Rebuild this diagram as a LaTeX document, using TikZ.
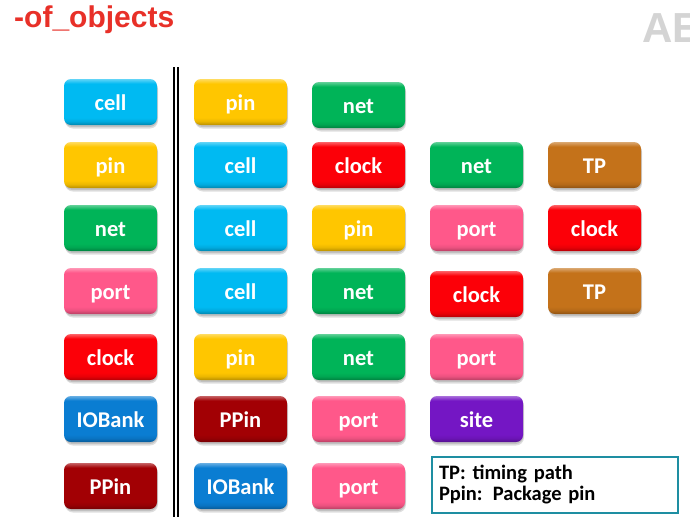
\documentclass[tikz,border=0pt]{standalone}
\usepackage{fontspec}
\setmainfont{Carlito}
\newfontfamily\titlefont{Liberation Sans}
\definecolor{cCell}{RGB}{0,186,242}
\definecolor{cPin}{RGB}{255,198,0}
\definecolor{cNet}{RGB}{0,180,88}
\definecolor{cPort}{RGB}{255,88,138}
\definecolor{cClock}{RGB}{252,0,8}
\definecolor{cIOBank}{RGB}{10,125,210}
\definecolor{cPPin}{RGB}{162,0,4}
\definecolor{cTP}{RGB}{196,114,26}
\definecolor{cSite}{RGB}{116,22,196}
\definecolor{cTitle}{RGB}{232,48,40}
\definecolor{cLegend}{RGB}{30,142,162}
\colorlet{btnc}{cCell}
\pgfdeclareverticalshading[btnc]{btnshade}{100bp}{%
  color(0bp)=(btnc!72!black); color(25bp)=(btnc!72!black);
  color(29bp)=(btnc!92!black); color(33bp)=(btnc);
  color(70bp)=(btnc); color(75bp)=(btnc!62!white); color(100bp)=(btnc!62!white)}
\tikzset{
  btnbox/.style={rectangle, rounded corners=7pt, minimum width=93pt, minimum height=46pt,
    inner sep=0pt, shading=btnshade, text=white, text height=18.5pt, text depth=1.5pt,
    font=\fontsize{22.5}{25}\selectfont\bfseries},
  btnshadow/.style={fill=black, opacity=0.13, rounded corners=8pt},
  legendbox/.style={draw=cLegend, line width=2pt, rectangle, minimum width=246pt,
    minimum height=56pt, text width=232pt, align=left, inner xsep=6pt, inner ysep=0pt,
    font=\fontsize{20.5}{21.5}\selectfont\bfseries},
  sepline/.style={line width=2pt, black}
}
\newcommand\btn[5]{%
  \fill[btnshadow] (#2-45.5,#3-21) rectangle (#2+47.5,#3+26.5);
  \fill[btnshadow] (#2-46,#3-22) rectangle (#2+47,#3+25);
  \colorlet{btnc}{#4}%
  \node[btnbox] (#1) at (#2,#3) {#5};%
}
\begin{document}
\begin{tikzpicture}[x=1pt,y=-1pt]
\useasboundingbox (0,0) rectangle (690,517);
\fill[white] (0,0) rectangle (690,517);
% title and watermark
\node[anchor=base west, inner sep=0pt, text=cTitle, font=\titlefont\fontsize{30}{32}\selectfont\bfseries] (title) at (14,27.5) {-of\_objects};
\node[anchor=base west, inner sep=0pt, text=black!17, font=\titlefont\fontsize{42}{44}\selectfont\bfseries] (logo) at (642,42) {AE};
% separator
\coordinate (s1t) at (173.7,67); \coordinate (s1b) at (173.7,517);
\coordinate (s2t) at (178.3,67); \coordinate (s2b) at (178.3,517);
\draw[sepline] (s1t) -- (s1b);
\draw[sepline] (s2t) -- (s2b);
% column 0
\btn{a0}{110.5}{102}{cCell}{cell}
\btn{a1}{110.5}{165}{cPin}{pin}
\btn{a2}{110.5}{228}{cNet}{net}
\btn{a3}{110.5}{291}{cPort}{port}
\btn{a4}{110.5}{357}{cClock}{clock}
\btn{a5}{110.5}{419}{cIOBank}{IOBank}
\btn{a6}{110.5}{486}{cPPin}{PPin}
% column 1
\btn{b0}{240.5}{102}{cPin}{pin}
\btn{b1}{240.5}{165}{cCell}{cell}
\btn{b2}{240.5}{228}{cCell}{cell}
\btn{b3}{240.5}{291}{cCell}{cell}
\btn{b4}{240.5}{357}{cPin}{pin}
\btn{b5}{240.5}{419}{cPPin}{PPin}
\btn{b6}{240.5}{486}{cIOBank}{IOBank}
% column 2
\btn{c0}{358.5}{105}{cNet}{net}
\btn{c1}{358.5}{165}{cClock}{clock}
\btn{c2}{358.5}{228}{cPin}{pin}
\btn{c3}{358.5}{291}{cNet}{net}
\btn{c4}{358.5}{357}{cNet}{net}
\btn{c5}{358.5}{419}{cPort}{port}
\btn{c6}{358.5}{486}{cPort}{port}
% column 3
\btn{d1}{476.5}{165}{cNet}{net}
\btn{d2}{476.5}{228}{cPort}{port}
\btn{d3}{476.5}{294}{cClock}{clock}
\btn{d4}{476.5}{357}{cPort}{port}
\btn{d5}{476.5}{419}{cSite}{site}
% column 4
\btn{e1}{594.5}{165}{cTP}{TP}
\btn{e2}{594.5}{228}{cClock}{clock}
\btn{e3}{594.5}{291}{cTP}{TP}
% legend
\node[legendbox, anchor=north west] (legend) at (431,455.5) {TP: timing path\\Ppin: Package pin};
\end{tikzpicture}
\end{document}
